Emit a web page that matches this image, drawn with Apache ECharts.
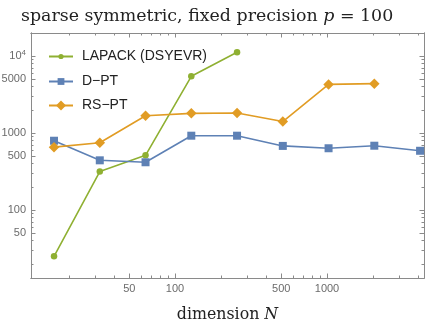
<!DOCTYPE html>
<html>
<head>
    <meta charset="UTF-8">
    <script type="text/javascript" src="https://cdn.jsdelivr.net/npm/echarts@6/dist/echarts.min.js"></script>
    <style type="text/css">
        *{
            margin: 0;
            padding: 0;
        }
        #main{
            width: 425px;
            height: 322px;
        }
    </style>
</head>
<body>
<div id="main"></div>
<script type="text/javascript">
    // matrix dimensions N
    var dims = [16, 32, 64, 128, 256, 512, 1024, 2048, 4096];
    // timings
    var lapack = [25, 316, 513, 5450, 11200];
    var dpt = [794, 442, 417, 923, 923, 680, 634, 684, 588];
    var rspt = [655, 748, 1678, 1800, 1820, 1410, 4280, 4380];

    // ticks
    var xMajor = [50, 100, 500, 1000];
    var xMinor = [20, 30, 40, 60, 70, 80, 90, 200, 300, 400, 600, 700, 800, 900, 2000, 3000, 4000];
    var yMajor = [50, 100, 500, 1000, 5000, 10000];
    var yMinor = [20, 30, 40, 60, 70, 80, 90, 200, 300, 400, 600, 700, 800, 900,
                  2000, 3000, 4000, 6000, 7000, 8000, 9000, 20000];

    var lg = function (v) { return Math.log10(v); };
    var pairs = function (vals) {
        return vals.map(function (v, i) { return [lg(dims[i]), lg(v)]; });
    };

    var frameColor = '#8a8a8a';
    var labelColor = '#6b6b6b';
    var serif = 'DejaVu Serif';
    var xMin = 1.0526, xMax = 3.6382;
    var yMin = 1.117, yMax = 4.299;

    function labelText(v) {
        var n = Math.round(Math.pow(10, v));
        if (n === 10000) return '{b|10}{sup|4}';
        return '{b|' + n + '}';
    }

    function makeAxis(pos, ticks, len, withLabel, min, max) {
        return {
            type: 'value',
            position: pos,
            min: min,
            max: max,
            axisLine: {show: true, onZero: false, lineStyle: {color: frameColor, width: 1}},
            axisTick: {show: true, inside: true, length: len, customValues: ticks.map(lg),
                       lineStyle: {color: frameColor, width: 1}},
            axisLabel: withLabel ? {
                show: true,
                customValues: ticks.map(lg),
                formatter: labelText,
                margin: 5,
                rich: {
                    b: {fontFamily: 'Liberation Sans', fontSize: 11, color: labelColor},
                    sup: {fontFamily: 'Liberation Sans', fontSize: 8, color: labelColor, verticalAlign: 'bottom', padding: [0, 0, 7, 0]}
                }
            } : {show: false},
            splitLine: {show: false}
        };
    }

    var xAxes = [
        makeAxis('bottom', xMajor, 4.5, true, xMin, xMax),
        makeAxis('bottom', xMinor, 2.5, false, xMin, xMax),
        makeAxis('top', xMajor, 4.5, false, xMin, xMax),
        makeAxis('top', xMinor, 2.5, false, xMin, xMax)
    ];
    xAxes[0].name = 'dimension {i|N}';
    xAxes[0].nameLocation = 'middle';
    xAxes[0].nameGap = 29;
    xAxes[0].nameTextStyle = {
        fontFamily: serif, fontSize: 15.8, color: '#222',
        rich: {i: {fontFamily: serif, fontStyle: 'italic', fontSize: 15.8, color: '#222'}}
    };

    var yAxes = [
        makeAxis('left', yMajor, 4.5, true, yMin, yMax),
        makeAxis('left', yMinor, 2.5, false, yMin, yMax),
        makeAxis('right', yMajor, 4.5, false, yMin, yMax),
        makeAxis('right', yMinor, 2.5, false, yMin, yMax)
    ];

    var names = ['LAPACK (DSYEVR)', 'D\u2212PT', 'RS\u2212PT'];
    var colors = ['#8fb032', '#5e81b5', '#e19c24'];
    // one legend per entry so each icon can have its own marker size
    var legendRows = [56.5, 81.5, 105.5];
    var legendIconH = [6.5, 8.5, 12.5];
    var legends = names.map(function (nm, i) {
        return {
            orient: 'vertical',
            left: 48,
            top: legendRows[i] - 8,
            padding: 0,
            itemWidth: 24,
            itemHeight: legendIconH[i],
            textStyle: {fontFamily: 'Liberation Sans', fontSize: 14, color: '#222',
                        lineHeight: 16, padding: [0, 0, 0, 4]},
            data: [nm]
        };
    });

    var myChart = echarts.init(document.getElementById('main'));
    var option = {
        animation: false,
        title: {
            text: 'sparse symmetric, fixed precision {i|p} = 100',
            left: 21,
            top: 8,
            padding: 0,
            textStyle: {
                fontFamily: serif,
                fontWeight: 'normal',
                fontSize: 17.4,
                color: '#222',
                rich: {i: {fontFamily: serif, fontStyle: 'italic', fontSize: 17.4, color: '#222'}}
            }
        },
        legend: legends,
        grid: {left: 31, right: 1, top: 33, bottom: 44, outerBoundsMode: 'none', containLabel: false},
        xAxis: xAxes,
        yAxis: yAxes,
        series: [
            {
                name: names[0],
                type: 'line',
                data: pairs(lapack),
                symbol: 'circle',
                symbolSize: 6.5,
                itemStyle: {color: colors[0]},
                lineStyle: {width: 1.6, color: colors[0]}
            },
            {
                name: names[1],
                type: 'line',
                data: pairs(dpt),
                symbol: 'rect',
                symbolSize: 8,
                itemStyle: {color: colors[1]},
                lineStyle: {width: 1.6, color: colors[1]}
            },
            {
                name: names[2],
                type: 'line',
                data: pairs(rspt),
                symbol: 'diamond',
                symbolSize: 10.5,
                itemStyle: {color: colors[2]},
                lineStyle: {width: 1.6, color: colors[2]}
            }
        ]
    };
    myChart.setOption(option);
</script>
</body>
</html>
